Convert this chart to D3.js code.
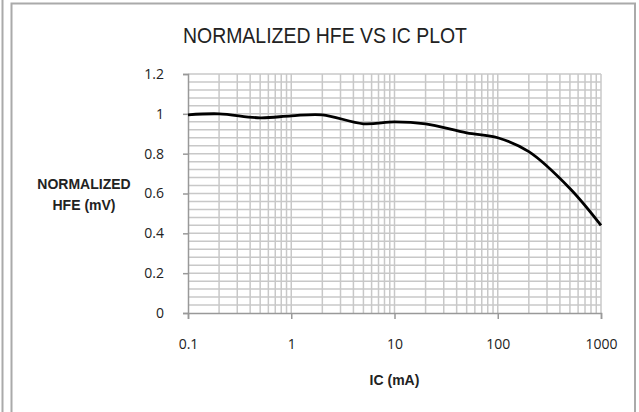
<!DOCTYPE html>
<html>
<head>
<meta charset="utf-8">
<script src="https://cdn.jsdelivr.net/npm/d3@7"></script>
<style>
	body { margin: 0; background: #fff; }
	text { font-family: 'Liberation Sans Narrow', 'Liberation Sans', sans-serif; fill: #222; }
</style>
</head>
<body>
<div id="chart"></div>
<script>
// collector current (mA) and normalized hFE
const icValues = [0.1, 0.2, 0.5, 1, 2, 5, 10, 20, 50, 100, 200, 500, 1000]
const hfeValues = [0.995, 1.0, 0.98, 0.99, 0.995, 0.95, 0.96, 0.95, 0.905, 0.88, 0.81, 0.625, 0.44]

const xTicks = [0.1, 1, 10, 100, 1000]
const yTicks = [0, 0.2, 0.4, 0.6, 0.8, 1, 1.2]

const title = 'NORMALIZED HFE VS IC PLOT'
const yTitle = ['NORMALIZED', 'HFE (mV)']
const xTitle = 'IC (mA)'

const width = 639, height = 412
const margin = { left: 188, right: 38, top: 74, bottom: 99 }

let svg = d3.select('#chart')
	.append('svg')
	.attr('width', width)
	.attr('height', height)

// frame lines like the screenshot
svg.append('line').attr('x1', 2.5).attr('x2', 2.5).attr('y1', 0).attr('y2', height)
	.attr('stroke', '#aaa').attr('stroke-width', 2)
svg.append('path')
	.attr('d', `M11.5,${height} V3.5 H635 V${height}`)
	.attr('fill', 'none').attr('stroke', '#aaa').attr('stroke-width', 2)

let x = d3.scaleLog()
	.domain([0.1, 1000])
	.range([margin.left, width - margin.right])

let y = d3.scaleLinear()
	.domain([0, 1.2])
	.range([height - margin.bottom, margin.top])

let grid = svg.append('g')
	.attr('stroke', '#c8c8c8')
	.attr('stroke-width', 1.5)

// minor horizontal every 0.04
grid.selectAll('.hgrid')
	.data(d3.range(1, 31).map(i => i * 0.04))
	.enter()
		.append('line')
		.attr('x1', x(0.1)).attr('x2', x(1000))
		.attr('y1', d => y(d)).attr('y2', d => y(d))

// log gridlines 1..9 per decade
grid.selectAll('.vgrid')
	.data(x.ticks().filter(d => d > 0.1))
	.enter()
		.append('line')
		.attr('x1', d => x(d)).attr('x2', d => x(d))
		.attr('y1', y(0)).attr('y2', y(1.2))

let xAxis = svg.append('g')
	.attr('transform', `translate(0,${y(0)})`)
	.call(d3.axisBottom(x).tickValues(xTicks).tickFormat(d => String(d)).tickSize(6).tickPadding(20))

let yAxis = svg.append('g')
	.attr('transform', `translate(${x(0.1)},0)`)
	.call(d3.axisLeft(y).tickValues(yTicks).tickFormat(d => String(d)).tickSize(5).tickPadding(19))

svg.selectAll('.domain, .tick line')
	.attr('stroke', '#999')
	.attr('stroke-width', 1.5)
svg.selectAll('.tick text')
	.style('font-family', "'Open Sans', sans-serif")
	.style('font-size', '14px')
	.attr('fill', '#222')

let line = d3.line()
	.x((d, i) => x(icValues[i]))
	.y(d => y(d))
	.curve(d3.curveCatmullRom.alpha(0.5))

svg.append('path')
	.datum(hfeValues)
	.attr('d', line)
	.attr('fill', 'none')
	.attr('stroke', '#000')
	.attr('stroke-width', 2.8)

svg.append('text')
	.attr('x', 325)
	.attr('y', 43)
	.attr('text-anchor', 'middle')
	.attr('textLength', 284)
	.attr('lengthAdjust', 'spacingAndGlyphs')
	.style('font-size', '22px')
	.text(title)

svg.append('text')
	.attr('x', (x(0.1) + x(1000)) / 2)
	.attr('y', 385)
	.attr('text-anchor', 'middle')
	.style('font-size', '14px')
	.style('font-weight', 'bold')
	.text(xTitle)

svg.append('g')
	.selectAll('text')
	.data(yTitle)
	.enter()
		.append('text')
		.attr('x', 84)
		.attr('y', (d, i) => 189 + i * 21)
		.attr('text-anchor', 'middle')
		.style('font-size', '14px')
		.style('font-weight', 'bold')
		.text(d => d)
</script>
</body>
</html>
